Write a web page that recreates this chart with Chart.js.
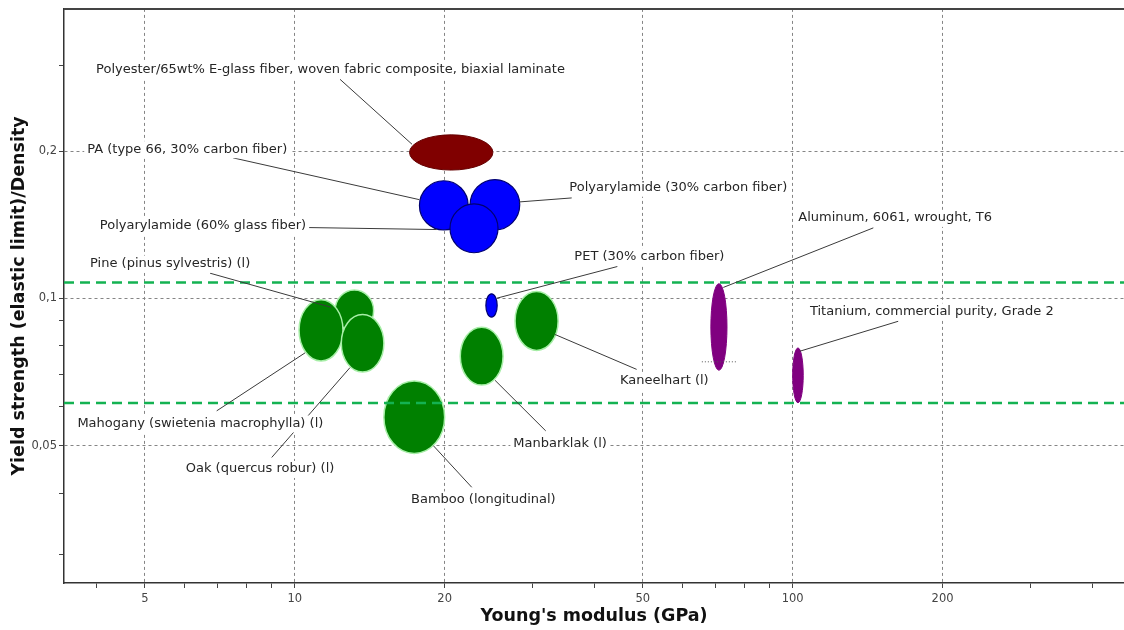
<!DOCTYPE html>
<html>
<head>
<meta charset="utf-8">
<script src="https://cdn.jsdelivr.net/npm/chart.js@4.4.1/dist/chart.umd.min.js"></script>
<style>
  html, body { margin: 0; padding: 0; background: #ffffff; }
  #wrap { width: 1124px; height: 630px; }
</style>
</head>
<body>
<div id="wrap"><canvas id="chart" width="1124" height="630"></canvas></div>
<script>
// ---- Material property ranges (Young's modulus in GPa, specific yield strength) ----
const materials = [
  'Polyester/65wt% E-glass fiber, woven fabric composite, biaxial laminate',
  'PA (type 66, 30% carbon fiber)',
  'Polyarylamide (30% carbon fiber)',
  'Polyarylamide (60% glass fiber)',
  'PET (30% carbon fiber)',
  'Pine (pinus sylvestris) (l)',
  'Mahogany (swietenia macrophylla) (l)',
  'Oak (quercus robur) (l)',
  'Bamboo (longitudinal)',
  'Manbarklak (l)',
  'Kaneelhart (l)',
  'Aluminum, 6061, wrought, T6',
  'Titanium, commercial purity, Grade 2'
];
const modulusMin  = [17.0, 17.8, 22.5, 20.5, 24.2, 12.05, 10.2, 12.4, 15.1, 21.5, 27.7, 68.5, 100.0];
const modulusMax  = [25.0, 22.3, 28.3, 25.6, 25.5, 14.4, 12.5, 15.1, 20.0, 26.2, 33.8, 73.8, 105.0];
const strengthMin = [0.183, 0.138, 0.138, 0.124, 0.0916, 0.0857, 0.0745, 0.0707, 0.0482, 0.0665, 0.0783, 0.0713, 0.0612];
const strengthMax = [0.216, 0.174, 0.175, 0.156, 0.1022, 0.1040, 0.0994, 0.0927, 0.0678, 0.0873, 0.1033, 0.1072, 0.0792];
const family      = ['composite', 'polymer', 'polymer', 'polymer', 'polymer',
                     'wood', 'wood', 'wood', 'wood', 'wood', 'wood', 'metal', 'metal'];

// Selection guide lines (specific strength levels)
const guideLevels = [0.1078, 0.0611];
// Short dotted marker under the aluminium bubble
const markerModulus = [65.7, 77.2];
const markerStrength = [0.0742, 0.0742];

// Axis ticks
const xTicks = [4, 5, 6, 7, 8, 9, 10, 20, 30, 40, 50, 60, 70, 80, 90, 100, 200, 300, 400];
const xMajor = [5, 10, 20, 50, 100, 200];
const yTicks = [0.03, 0.04, 0.05, 0.06, 0.07, 0.08, 0.09, 0.1, 0.2, 0.3];
const yMajor = [0.05, 0.1, 0.2];
const xRange = [3.44, 462.8];
const yRange = [0.02619, 0.3908];

// ---- Callout layout (in axis units): label anchor, leader start, leader end ----
const callouts = [
  { label: [3.99, 0.294],  from: [12.33, 0.2805], to: [17.2, 0.2066] },
  { label: [3.83, 0.2019], from: [7.52, 0.1938],  to: [17.79, 0.1592] },
  { label: [35.6, 0.1684], from: [35.99, 0.1605], to: [28.25, 0.1575] },
  { label: [4.06, 0.1408], from: [10.63, 0.1396], to: [19.28, 0.1383] },
  { label: [36.43, 0.1217], from: [44.45, 0.1162], to: [25.45, 0.1001] },
  { label: [3.88, 0.1178], from: [6.76, 0.1126],  to: [11.83, 0.0959] },
  { label: [3.66, 0.0555], from: [6.97, 0.0589],  to: [10.49, 0.0774] },
  { label: [6.04, 0.0448], from: [8.99, 0.0473],  to: [12.91, 0.0722] },
  { label: [17.12, 0.0388], from: [22.67, 0.0411], to: [18.98, 0.0500] },
  { label: [27.48, 0.0504], from: [31.92, 0.0536], to: [25.25, 0.0680] },
  { label: [45.0, 0.0678], from: [48.6, 0.0716],  to: [33.3, 0.0844] },
  { label: [102.6, 0.1461], from: [145.2, 0.1394], to: [72.55, 0.1053] },
  { label: [108.3, 0.0941], from: [162.9, 0.0898], to: [103.4, 0.0780] }
];

const familyStyle = {
  composite: { fill: '#800000', stroke: '#650000', width: 1 },
  polymer:   { fill: '#0000ff', stroke: '#000070', width: 1.2 },
  wood:      { fill: '#008000', stroke: '#a6eea6', width: 1.5 },
  metal:     { fill: '#800080', stroke: '#800080', width: 1 }
};

const fmt = v => String(v).replace('.', ',');

// Draws each property range as an ellipse in log-log space
const bubblePlugin = {
  id: 'propertyBubbles',
  beforeDatasetsDraw(chart) {
    const { ctx, chartArea, scales: { x, y } } = chart;
    ctx.save();
    ctx.beginPath();
    ctx.rect(chartArea.left, chartArea.top, chartArea.right - chartArea.left, chartArea.bottom - chartArea.top);
    ctx.clip();
    materials.forEach((name, i) => {
      const x1 = x.getPixelForValue(modulusMin[i]);
      const x2 = x.getPixelForValue(modulusMax[i]);
      const y1 = y.getPixelForValue(strengthMax[i]);
      const y2 = y.getPixelForValue(strengthMin[i]);
      const st = familyStyle[family[i]];
      ctx.beginPath();
      ctx.ellipse((x1 + x2) / 2, (y1 + y2) / 2, Math.abs(x2 - x1) / 2, Math.abs(y2 - y1) / 2, 0, 0, Math.PI * 2);
      ctx.fillStyle = st.fill;
      ctx.fill();
      ctx.lineWidth = st.width;
      ctx.strokeStyle = st.stroke;
      ctx.stroke();
    });
    ctx.restore();
  },
  afterDatasetsDraw(chart) {
    const { ctx, chartArea, scales: { x, y } } = chart;
    ctx.save();
    // leader lines
    ctx.strokeStyle = '#3a3a3a';
    ctx.lineWidth = 1;
    callouts.forEach(c => {
      ctx.beginPath();
      ctx.moveTo(x.getPixelForValue(c.from[0]), y.getPixelForValue(c.from[1]));
      ctx.lineTo(x.getPixelForValue(c.to[0]), y.getPixelForValue(c.to[1]));
      ctx.stroke();
    });
    // labels on white boxes
    ctx.font = '13px "DejaVu Sans"';
    ctx.textBaseline = 'middle';
    ctx.textAlign = 'left';
    callouts.forEach((c, i) => {
      const lx = x.getPixelForValue(c.label[0]);
      const ly = y.getPixelForValue(c.label[1]);
      const w = ctx.measureText(materials[i]).width;
      ctx.fillStyle = '#ffffff';
      ctx.fillRect(lx - 3, ly - 8, w + 6, 17);
      ctx.fillStyle = '#262626';
      ctx.fillText(materials[i], lx, ly);
    });
    // top frame line
    ctx.strokeStyle = '#444444';
    ctx.lineWidth = 2;
    ctx.beginPath();
    ctx.moveTo(chartArea.left, chartArea.top);
    ctx.lineTo(chartArea.right, chartArea.top);
    ctx.stroke();
    ctx.restore();
  }
};

const isMajor = (list, v) => list.some(m => Math.abs(m - v) < 1e-9);

new Chart(document.getElementById('chart'), {
  type: 'scatter',
  data: {
    datasets: [
      ...guideLevels.map((lvl, k) => ({
        label: 'Guide ' + (k + 1),
        type: 'line',
        data: [{ x: xRange[0], y: lvl }, { x: xRange[1], y: lvl }],
        borderColor: '#14b252',
        borderWidth: 2.6,
        borderDash: [10, 6],
        pointRadius: 0,
        fill: false
      })),
      {
        label: 'Aluminium marker',
        type: 'line',
        data: markerModulus.map((m, k) => ({ x: m, y: markerStrength[k] })),
        borderColor: '#555555',
        borderWidth: 1,
        borderDash: [1, 2],
        pointRadius: 0,
        fill: false
      }
    ]
  },
  options: {
    responsive: false,
    animation: false,
    devicePixelRatio: 1,
    layout: { padding: { top: 6, right: 0, bottom: 0, left: 0 } },
    plugins: { legend: { display: false }, tooltip: { enabled: false } },
    scales: {
      x: {
        type: 'logarithmic',
        min: xRange[0],
        max: xRange[1],
        afterBuildTicks: s => { s.ticks = xTicks.map(v => ({ value: v })); },
        afterFit: s => { s.height = 47; },
        ticks: {
          autoSkip: false,
          maxRotation: 0,
          padding: 4,
          color: '#444444',
          font: { family: 'DejaVu Sans', size: 11.5 },
          callback: v => isMajor(xMajor, v) ? fmt(v) : ''
        },
        grid: {
          color: c => (c.tick && isMajor(xMajor, c.tick.value)) ? '#858585' : 'rgba(0,0,0,0)',
          tickColor: '#444444',
          tickLength: 5,
          tickBorderDash: [],
          lineWidth: 1
        },
        border: { color: '#333333', width: 1.5, dash: [3, 3] },
        title: {
          display: true,
          text: "Young's modulus (GPa)",
          color: '#111111',
          font: { family: 'DejaVu Sans', size: 17.5, weight: 'bold' },
          padding: { top: 0, bottom: 3 }
        }
      },
      y: {
        type: 'logarithmic',
        min: yRange[0],
        max: yRange[1],
        afterBuildTicks: s => { s.ticks = yTicks.map(v => ({ value: v })); },
        afterFit: s => { s.width = 64; },
        ticks: {
          autoSkip: false,
          padding: 2,
          color: '#444444',
          font: { family: 'DejaVu Sans', size: 11.5 },
          callback: v => isMajor(yMajor, v) ? fmt(v) : ''
        },
        grid: {
          color: c => (c.tick && isMajor(yMajor, c.tick.value)) ? '#858585' : 'rgba(0,0,0,0)',
          tickColor: '#444444',
          tickLength: 5,
          tickBorderDash: [],
          lineWidth: 1
        },
        border: { color: '#333333', width: 1.5, dash: [3, 3] },
        title: {
          display: true,
          text: 'Yield strength (elastic limit)/Density',
          color: '#111111',
          font: { family: 'DejaVu Sans', size: 17.5, weight: 'bold' },
          padding: { top: 9, bottom: 0 }
        }
      }
    }
  },
  plugins: [bubblePlugin]
});
</script>
</body>
</html>
